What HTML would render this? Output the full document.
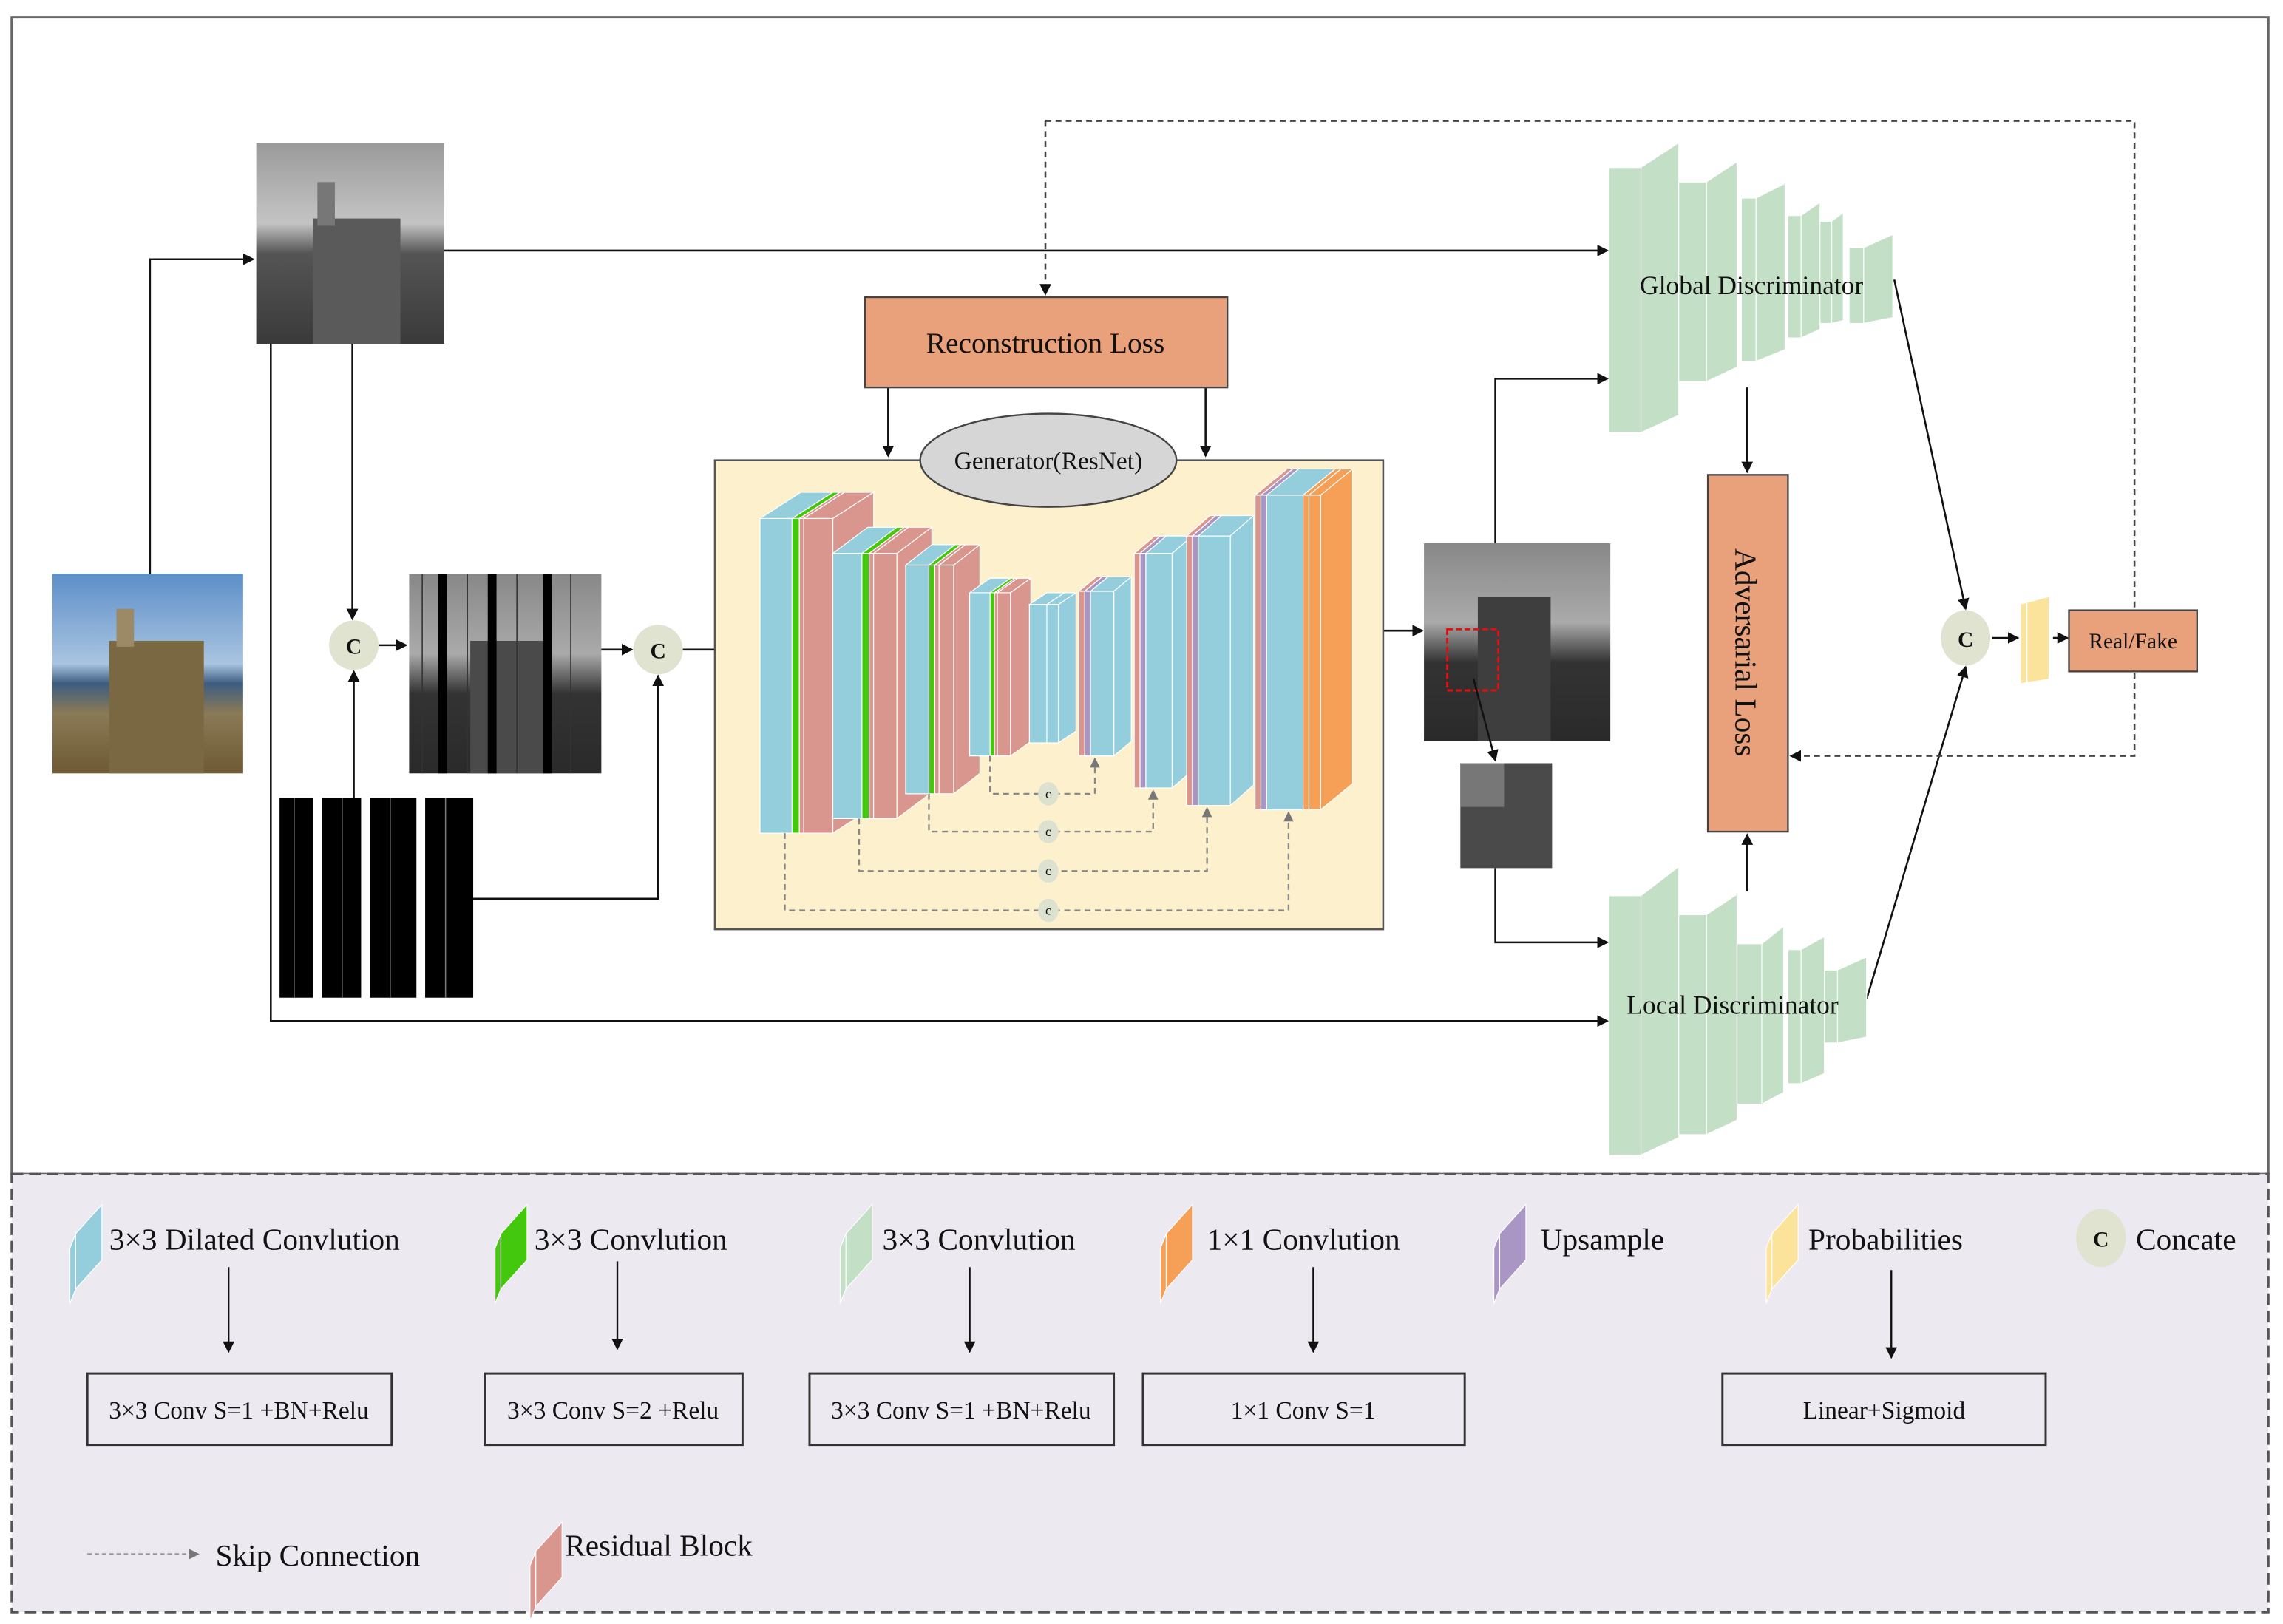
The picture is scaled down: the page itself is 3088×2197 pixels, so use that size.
<!DOCTYPE html>
<html><head><meta charset="utf-8"><style>
html,body{margin:0;padding:0;background:#fff;}
svg{display:block}
text{font-family:"Liberation Serif",serif;fill:#111}
</style></head><body>
<svg id="s" width="3088" height="2197" viewBox="0 0 1568 1115" preserveAspectRatio="none" xmlns="http://www.w3.org/2000/svg">
<defs>
<marker id="a" markerWidth="8" markerHeight="8" refX="7" refY="4" orient="auto" markerUnits="userSpaceOnUse"><path d="M0,0L8,4L0,8z" fill="#111"/></marker>
<marker id="g" markerWidth="7" markerHeight="7" refX="6" refY="3.5" orient="auto" markerUnits="userSpaceOnUse"><path d="M0,0L7,3.5L0,7z" fill="#777"/></marker>
<linearGradient id="sky" x1="0" y1="0" x2="0" y2="1"><stop offset="0" stop-color="#5d8fc9"/><stop offset="0.45" stop-color="#a9c4e0"/><stop offset="0.55" stop-color="#3d5d80"/><stop offset="0.7" stop-color="#8a7a55"/><stop offset="1" stop-color="#6e5a35"/></linearGradient>
<linearGradient id="gray" x1="0" y1="0" x2="0" y2="1"><stop offset="0" stop-color="#9a9a9a"/><stop offset="0.4" stop-color="#c4c4c4"/><stop offset="0.55" stop-color="#555"/><stop offset="1" stop-color="#3a3a3a"/></linearGradient>
<linearGradient id="gray2" x1="0" y1="0" x2="0" y2="1"><stop offset="0" stop-color="#888"/><stop offset="0.4" stop-color="#aaa"/><stop offset="0.6" stop-color="#333"/><stop offset="1" stop-color="#2a2a2a"/></linearGradient>
</defs>
<rect x="0" y="0" width="1568" height="1115" fill="#fff"/>
<rect x="8" y="12" width="1550" height="794" fill="#fff" stroke="#666" stroke-width="1.5"/>
<rect x="8" y="806" width="1550" height="301" fill="#ece9f1" stroke="#555" stroke-width="1.5" stroke-dasharray="8,4"/>

<!-- images -->
<rect x="176" y="98" width="129" height="138" fill="url(#gray)"/>
<rect x="215" y="150" width="60" height="86" fill="#5a5a5a"/><rect x="218" y="125" width="12" height="30" fill="#777"/>
<rect x="36" y="394" width="131" height="137" fill="url(#sky)"/>
<rect x="75" y="440" width="65" height="91" fill="#7a6843"/><rect x="80" y="418" width="12" height="26" fill="#9b8a65"/>
<rect x="281" y="394" width="132" height="137" fill="url(#gray2)"/>
<rect x="323" y="440" width="55" height="91" fill="#4a4a4a"/>
<g fill="#000"><rect x="301" y="394" width="6" height="137"/><rect x="335" y="394" width="6" height="137"/><rect x="373" y="394" width="6" height="137"/></g>
<g stroke="#333" stroke-width="0.8"><line x1="290" y1="394" x2="290" y2="531"/><line x1="321" y1="394" x2="321" y2="531"/><line x1="355" y1="394" x2="355" y2="531"/><line x1="392" y1="394" x2="392" y2="531"/></g>
<g fill="#000"><rect x="192" y="548" width="23" height="137"/><rect x="221" y="548" width="27" height="137"/><rect x="254" y="548" width="32" height="137"/><rect x="292" y="548" width="33" height="137"/></g>
<g stroke="#777" stroke-width="0.8"><line x1="202" y1="548" x2="202" y2="685"/><line x1="235" y1="548" x2="235" y2="685"/><line x1="268" y1="548" x2="268" y2="685"/><line x1="306" y1="548" x2="306" y2="685"/></g>

<rect x="978" y="373" width="128" height="136" fill="url(#gray2)"/>
<rect x="1015" y="410" width="50" height="99" fill="#3e3e3e"/>
<rect x="994" y="432" width="35" height="42" fill="none" stroke="#e01010" stroke-width="1.5" stroke-dasharray="4,2"/>
<rect x="1003" y="524" width="63" height="72" fill="#4a4a4a"/><rect x="1003" y="524" width="30" height="30" fill="#777"/>

<!-- concat circles -->
<g fill="#dfe3cf"><ellipse cx="243" cy="443" rx="17" ry="17"/><ellipse cx="452" cy="446" rx="17" ry="17"/><ellipse cx="1350" cy="438" rx="17" ry="19"/></g>
<g font-weight="bold" font-size="15" text-anchor="middle"><text x="243" y="449">C</text><text x="452" y="452">C</text><text x="1350" y="444">C</text></g>

<!-- connectors -->
<g stroke="#111" stroke-width="1.3" fill="none">
<polyline points="103,394 103,178 174,178" marker-end="url(#a)"/>
<line x1="242" y1="236" x2="242" y2="425" marker-end="url(#a)"/>
<line x1="243" y1="548" x2="243" y2="461" marker-end="url(#a)"/>
<line x1="260" y1="443" x2="279" y2="443" marker-end="url(#a)"/>
<line x1="413" y1="446" x2="434" y2="446" marker-end="url(#a)"/>
<polyline points="325,617 452,617 452,464" marker-end="url(#a)"/>
<line x1="469" y1="446" x2="520" y2="446" marker-end="url(#a)"/>
<line x1="305" y1="172" x2="1104" y2="172" marker-end="url(#a)"/>
<polyline points="186,236 186,701 1104,701" marker-end="url(#a)"/>
<line x1="610" y1="266" x2="610" y2="313" marker-end="url(#a)"/>
<line x1="828" y1="266" x2="828" y2="313" marker-end="url(#a)"/>
<line x1="928" y1="433" x2="977" y2="433" marker-end="url(#a)"/>
<polyline points="1027,373 1027,260 1104,260" marker-end="url(#a)"/>
<line x1="1012" y1="466" x2="1027" y2="522" marker-end="url(#a)"/>
<polyline points="1027,596 1027,647 1104,647" marker-end="url(#a)"/>
<line x1="1200" y1="266" x2="1200" y2="324" marker-end="url(#a)"/>
<line x1="1200" y1="612" x2="1200" y2="573" marker-end="url(#a)"/>
<line x1="1301" y1="192" x2="1350" y2="418" marker-end="url(#a)"/>
<line x1="1282" y1="686" x2="1350" y2="458" marker-end="url(#a)"/>
<line x1="1368" y1="438" x2="1386" y2="438" marker-end="url(#a)"/>
<line x1="1410" y1="438" x2="1420" y2="438" marker-end="url(#a)"/>
</g>
<g stroke="#444" stroke-width="1.3" fill="none" stroke-dasharray="4,3">
<polyline points="718,83 1466,83 1466,519 1230,519" marker-end="url(#a)"/>
<line x1="718" y1="83" x2="718" y2="202" marker-end="url(#a)"/>
</g>

<!-- generator -->
<rect x="491" y="316" width="459" height="322" fill="#fdf0cc" stroke="#555" stroke-width="1.3"/>
<rect x="594" y="204" width="249" height="62" fill="#e8a17b" stroke="#444" stroke-width="1.2"/>
<text x="718" y="242" font-size="20" text-anchor="middle">Reconstruction Loss</text>
<ellipse cx="720" cy="316" rx="88" ry="32" fill="#d6d6d6" stroke="#444" stroke-width="1.2"/>
<text x="720" y="322" font-size="17" text-anchor="middle">Generator(ResNet)</text>
<g id="blocks"></g>
<g stroke="#888" stroke-width="1.2" fill="none" stroke-dasharray="4,3">
<polyline points="680,519 680,545 752,545 752,521" marker-end="url(#g)"/>
<polyline points="638,545 638,571 792,571 792,543" marker-end="url(#g)"/>
<polyline points="590,562 590,598 829,598 829,555" marker-end="url(#g)"/>
<polyline points="539,572 539,625 885,625 885,558" marker-end="url(#g)"/>
</g>
<g fill="#dde2d0"><ellipse cx="720" cy="545" rx="7" ry="8"/><ellipse cx="720" cy="571" rx="7" ry="8"/><ellipse cx="720" cy="598" rx="7" ry="8"/><ellipse cx="720" cy="625" rx="7" ry="8"/></g>
<g font-size="9" text-anchor="middle"><text x="720" y="548">c</text><text x="720" y="574">c</text><text x="720" y="601">c</text><text x="720" y="628">c</text></g>

<!-- discriminators -->
<g id="disc"></g>
<text x="1203" y="202" font-size="18" text-anchor="middle">Global Discriminator</text>
<text x="1190" y="696" font-size="18" text-anchor="middle">Local Discriminator</text>
<rect x="1173" y="326" width="55" height="245" fill="#e8a17b" stroke="#444" stroke-width="1.2"/>
<text transform="translate(1192,448) rotate(90)" font-size="21" text-anchor="middle">Adversarial Loss</text>
<polygon points="1388,415 1407,410 1407,466 1388,469" fill="#fbe39c"/>
<line x1="1392" y1="414" x2="1392" y2="469" stroke="#fff" stroke-width="1"/>
<rect x="1421" y="419" width="88" height="42" fill="#e8a17b" stroke="#444" stroke-width="1.2"/>
<text x="1465" y="445" font-size="15" text-anchor="middle">Real/Fake</text>

<!-- legend -->
<g id="leg"></g>
<g font-size="21">
<text x="75" y="858">3×3 Dilated Convlution</text>
<text x="367" y="858">3×3 Convlution</text>
<text x="606" y="858">3×3 Convlution</text>
<text x="829" y="858">1×1 Convlution</text>
<text x="1058" y="858">Upsample</text>
<text x="1242" y="858">Probabilities</text>
<text x="1467" y="858">Concate</text>
<text x="148" y="1075">Skip Connection</text>
<text x="388" y="1068">Residual Block</text>
</g>
<ellipse cx="1443" cy="850" rx="17" ry="20" fill="#dfe3cf"/><text x="1443" y="856" font-size="15" font-weight="bold" text-anchor="middle">C</text>
<g stroke="#111" stroke-width="1.2">
<line x1="157" y1="870" x2="157" y2="928" marker-end="url(#a)"/>
<line x1="424" y1="866" x2="424" y2="926" marker-end="url(#a)"/>
<line x1="666" y1="870" x2="666" y2="928" marker-end="url(#a)"/>
<line x1="902" y1="870" x2="902" y2="928" marker-end="url(#a)"/>
<line x1="1299" y1="872" x2="1299" y2="932" marker-end="url(#a)"/>
</g>
<g fill="none" stroke="#333" stroke-width="1.5">
<rect x="60" y="943" width="209" height="49"/><rect x="333" y="943" width="177" height="49"/><rect x="556" y="943" width="209" height="49"/><rect x="785" y="943" width="221" height="49"/><rect x="1183" y="943" width="222" height="49"/>
</g>
<g font-size="17" text-anchor="middle">
<text x="164" y="974">3×3 Conv S=1 +BN+Relu</text><text x="421" y="974">3×3 Conv S=2 +Relu</text><text x="660" y="974">3×3 Conv S=1 +BN+Relu</text><text x="895" y="974">1×1 Conv S=1</text><text x="1294" y="974">Linear+Sigmoid</text>
</g>
<line x1="60" y1="1067" x2="136" y2="1067" stroke="#999" stroke-width="1.2" stroke-dasharray="3,2" marker-end="url(#g)"/>
</svg>
<script>
var NS="http://www.w3.org/2000/svg";
function poly(par,pts,fill){var p=document.createElementNS(NS,"polygon");p.setAttribute("points",pts.map(function(q){return q.join(",")}).join(" "));p.setAttribute("fill",fill);p.setAttribute("stroke","#fff");p.setAttribute("stroke-width","0.6");par.appendChild(p);}
var C={b:"#94cddb",g:"#44c80e",p:"#d9968f",u:"#a996c4",o:"#f59f57"};
var bl=document.getElementById("blocks");
function slab(x,w,y,h,dx,dy,c){poly(bl,[[x,y],[x+dx,y+dy],[x+w+dx,y+dy],[x+w,y]],c);poly(bl,[[x+w,y],[x+w+dx,y+dy],[x+w+dx,y+h+dy],[x+w,y+h]],c);poly(bl,[[x,y],[x+w,y],[x+w,y+h],[x,y+h]],c);}
function block(y,h,dx,dy,parts){parts.forEach(function(p){slab(p[0],p[1],y,h,dx,dy,C[p[2]]);});}
block(356,216,28,-18,[[522,22,"b"],[544,5,"g"],[549,3,"p"],[552,20,"p"]]);
block(380,182,24,-18,[[572,20,"b"],[592,5,"g"],[597,3,"p"],[600,16,"p"]]);
block(388,157,18,-14,[[622,16,"b"],[638,4,"g"],[642,3,"p"],[645,10,"p"]]);
block(407,112,14,-10,[[666,14,"b"],[680,3,"g"],[683,2,"p"],[685,9,"p"]]);
block(415,95,12,-8,[[707,12,"b"],[719,8,"b"]]);
block(406,113,12,-10,[[741,4,"p"],[745,4,"u"],[749,16,"b"]]);
block(380,161,14,-12,[[779,4,"p"],[783,4,"u"],[787,18,"b"]]);
block(368,185,16,-14,[[815,4,"p"],[819,4,"u"],[823,22,"b"]]);
block(340,216,22,-18,[[862,4,"p"],[866,4,"u"],[870,25,"b"],[895,4,"o"],[899,8,"o"]]);
var ds=document.getElementById("disc"),G="#c3dfc5";
function dblk(x1,x2,y1,y2,x3,t,b){poly(ds,[[x2,y1],[x3,t],[x3,b],[x2,y2]],G);poly(ds,[[x1,y1],[x2,y1],[x2,y2],[x1,y2]],G);}
[[1105,1127,115,297,1153,98,285],[1153,1172,125,262,1193,111,252],[1196,1206,136,248,1226,126,240],[1228,1237,148,232,1250,139,226],[1250,1258,152,222,1266,146,220],[1270,1280,170,222,1300,161,218]].forEach(function(a){dblk.apply(null,a)});
[[1105,1127,615,793,1153,595,781],[1153,1172,628,779,1193,614,769],[1193,1210,648,758,1225,636,750],[1228,1237,652,744,1253,643,737],[1253,1262,666,716,1282,657,712]].forEach(function(a){dblk.apply(null,a)});
var lg=document.getElementById("leg");
function icon(x,y,c){poly(lg,[[x,y+10],[x+4,y],[x+4,y+38],[x,y+48]],c);poly(lg,[[x+4,y],[x+22,y-20],[x+22,y+18],[x+4,y+38]],c);}
icon(48,847,C.b);icon(340,847,C.g);icon(577,847,"#c3dfc5");icon(797,847,C.o);icon(1026,847,C.u);icon(1213,847,"#fbe39c");icon(364,1065,C.p);
</script>
</body></html>
